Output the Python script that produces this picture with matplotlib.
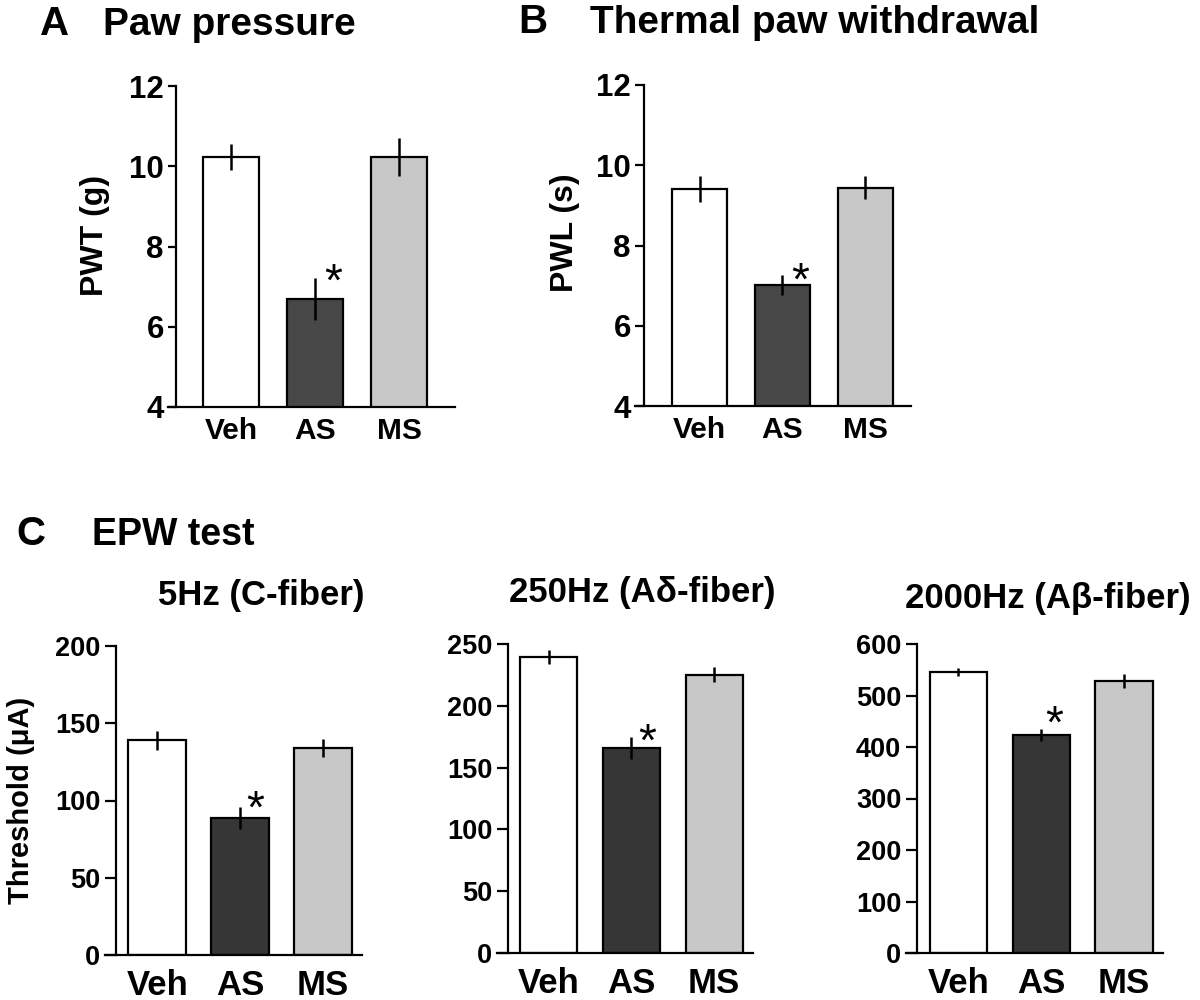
import matplotlib
matplotlib.use('Agg')
import matplotlib.pyplot as plt

plt.rcParams['font.family'] = ['Liberation Sans', 'DejaVu Sans']
plt.rcParams['font.weight'] = 'bold'
plt.rcParams['axes.labelweight'] = 'bold'

W, H = 1200, 1000

groups = ['Veh', 'AS', 'MS']
colors_top = ['white', '#474747', '#c8c8c8']
colors_bot = ['white', '#363636', '#c8c8c8']

# A: paw pressure threshold (g)
pwt_mean = [10.23, 6.69, 10.23]
pwt_sem = [0.32, 0.52, 0.47]

# B: thermal paw withdrawal latency (s)
pwl_mean = [9.41, 7.02, 9.44]
pwl_sem = [0.33, 0.25, 0.28]

# C: EPW thresholds (uA)
c5_mean = [139, 88.7, 134]
c5_sem = [6, 7, 6]
c250_mean = [239.5, 166, 225]
c250_sem = [6, 9, 6]
c2000_mean = [546, 423, 528]
c2000_sem = [8, 12, 13]


def rect(l, r, t, b):
    # pixel box -> figure fraction
    return [l / W, 1 - b / H, (r - l) / W, (b - t) / H]


def bar_panel(ax, means, sems, colors, ylim, yticks, xlim, width,
              tick_px, tick_fs, x_fs, x_pad, star):
    x = list(range(len(means)))
    ax.bar(x, means, width, color=colors, edgecolor='black', linewidth=1.6, zorder=2)
    ax.errorbar(x, means, yerr=sems, fmt='none', ecolor='black',
                elinewidth=1.8, capsize=0, zorder=3)
    ax.set_ylim(*ylim)
    ax.set_xlim(*xlim)
    ax.set_yticks(yticks)
    ax.set_xticks(x)
    ax.set_xticklabels(groups)
    for s in ['top', 'right']:
        ax.spines[s].set_visible(False)
    for s in ['left', 'bottom']:
        ax.spines[s].set_linewidth(1.6)
    # bottom axis runs out to the end of the y ticks
    px_per_unit = ax.get_position().width * W / (xlim[1] - xlim[0])
    ax.spines['bottom'].set_bounds(xlim[0] - tick_px / px_per_unit, xlim[1])
    ax.tick_params(axis='y', length=tick_px * 0.72, width=1.6,
                   labelsize=tick_fs, pad=3)
    ax.tick_params(axis='x', length=0, labelsize=x_fs, pad=x_pad)
    ax.annotate('*', xy=(1, means[1] + sems[1]), xytext=star,
                textcoords='offset pixels', ha='center', va='baseline',
                fontsize=33, fontweight='normal', family='Liberation Sans')


fig = plt.figure(figsize=(12, 10), dpi=100)

axA = fig.add_axes(rect(176, 455, 86, 407))
bar_panel(axA, pwt_mean, pwt_sem, colors_top, (4, 12), [4, 6, 8, 10, 12],
          (-0.655, 2.667), 0.667, 8, 22.5, 21.5, 7, (18, -17))
axA.set_ylabel('PWT (g)', fontsize=23)
axA.yaxis.set_label_coords(-0.237, 0.536)

axB = fig.add_axes(rect(644, 911, 85, 406))
bar_panel(axB, pwl_mean, pwl_sem, colors_top, (4, 12), [4, 6, 8, 10, 12],
          (-0.67, 2.55), 0.67, 9, 22.5, 21.5, 7, (18, -20))
axB.set_ylabel('PWL (s)', fontsize=23)
axB.yaxis.set_label_coords(-0.240, 0.539)

axC1 = fig.add_axes(rect(116, 362, 646, 955))
bar_panel(axC1, c5_mean, c5_sem, colors_bot, (0, 200), [0, 50, 100, 150, 200],
          (-0.5, 2.47), 0.70, 11.5, 19.5, 25, 10, (15, -16))
axC1.set_ylabel('Threshold (μA)', fontsize=21)
axC1.yaxis.set_label_coords(-0.33, 0.5)

axC2 = fig.add_axes(rect(508, 753, 644, 953))
bar_panel(axC2, c250_mean, c250_sem, colors_bot, (0, 250), [0, 50, 100, 150, 200, 250],
          (-0.49, 2.47), 0.69, 11.5, 19.5, 25, 10, (16, -19))

axC3 = fig.add_axes(rect(917, 1163, 644, 953))
bar_panel(axC3, c2000_mean, c2000_sem, colors_bot, (0, 600), [0, 100, 200, 300, 400, 500, 600],
          (-0.5, 2.47), 0.69, 11.5, 19.5, 25, 10, (13, -9))

# panel letters and titles
def ftext(x, y, s, size, ha='left'):
    fig.text(x / W, 1 - y / H, s, fontsize=size, ha=ha, va='baseline')

ftext(40, 35, 'A', 29)
ftext(103, 35, 'Paw pressure', 28)
ftext(518, 33, 'B', 29)
ftext(590, 33, 'Thermal paw withdrawal', 28)
ftext(16, 545, 'C', 29)
ftext(92, 545, 'EPW test', 27)
ftext(261, 605, '5Hz (C-fiber)', 25, ha='center')
ftext(642, 602, '250Hz (Aδ-fiber)', 25, ha='center')
ftext(1048, 608, '2000Hz (Aβ-fiber)', 25, ha='center')

fig.savefig('out.png', dpi=100)
